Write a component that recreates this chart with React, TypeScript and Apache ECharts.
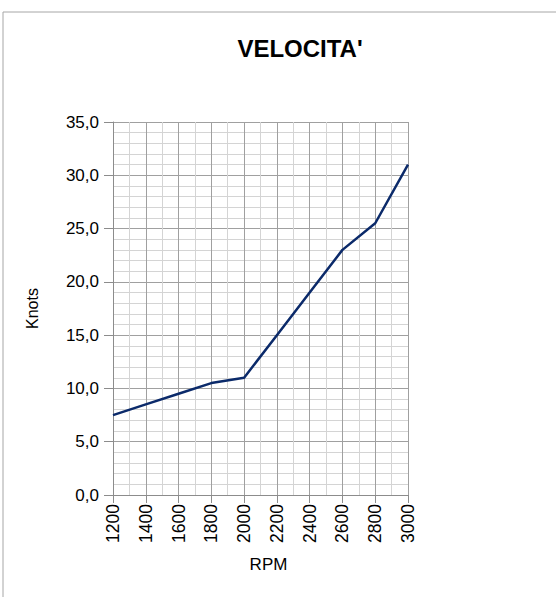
import React, { useEffect, useRef } from "react";
import * as echarts from "echarts";

const rpm = [1200, 1400, 1600, 1800, 2000, 2200, 2400, 2600, 2800, 3000];
const knots = [7.5, 8.5, 9.5, 10.5, 11.0, 15.0, 19.0, 23.0, 25.5, 31.0];
const titleText = "VELOCITA'";
const xName = "RPM";
const yName = "Knots";

export default function App() {
  const ref = useRef<HTMLDivElement>(null);
  useEffect(() => {
    document.body.style.margin = "0";
    const chart = echarts.init(ref.current!, null, { renderer: "svg" });
    const font = "'Liberation Sans', Arial, sans-serif";
    chart.setOption({
      animation: false,
      backgroundColor: "#ffffff",
      textStyle: { fontFamily: font },
      title: {
        text: titleText,
        left: 295,
        top: 31,
        textAlign: "center",
        textStyle: { fontSize: 24, fontWeight: "bold", color: "#000", fontFamily: font },
      },
      graphic: [
        { type: "line", shape: { x1: 3, y1: 12, x2: 556, y2: 12 }, style: { stroke: "#a6a6a6", lineWidth: 1 } },
        { type: "line", shape: { x1: 3, y1: 12, x2: 3, y2: 597 }, style: { stroke: "#a6a6a6", lineWidth: 1 } },
      ],
      grid: { left: 113, right: 148, top: 122, bottom: 102, containLabel: false },
      xAxis: {
        type: "value",
        min: 1200,
        max: 3000,
        interval: 200,
        name: xName,
        nameLocation: "middle",
        nameGap: 61,
        nameTextStyle: { fontSize: 17, color: "#000", fontFamily: font, padding: [0, 0, 0, 16] },
        axisLine: { show: true, lineStyle: { color: "#8c8c8c", width: 1 } },
        axisTick: { show: true, length: 8, lineStyle: { color: "#8c8c8c" } },
        axisLabel: {
          rotate: 90,
          fontSize: 17.5,
          color: "#000",
          margin: 9,
          fontFamily: font,
          formatter: (v: number) => String(v),
        },
        splitLine: { show: true, lineStyle: { color: "#a0a0a0", width: 1 } },
        minorTick: { show: false, splitNumber: 2 },
        minorSplitLine: { show: true, lineStyle: { color: "#d4d4d4", width: 1 } },
      },
      yAxis: {
        type: "value",
        min: 0,
        max: 35,
        interval: 5,
        name: yName,
        nameLocation: "middle",
        nameGap: 73,
        nameTextStyle: { fontSize: 16, color: "#000", fontFamily: font },
        axisLine: { show: true, lineStyle: { color: "#8c8c8c", width: 1 } },
        axisTick: { show: true, length: 9, lineStyle: { color: "#8c8c8c" } },
        axisLabel: {
          fontSize: 17,
          color: "#000",
          margin: 14,
          fontFamily: font,
          formatter: (v: number) => v.toFixed(1).replace(".", ","),
        },
        splitLine: { show: true, lineStyle: { color: "#a0a0a0", width: 1 } },
        minorTick: { show: false, splitNumber: 5 },
        minorSplitLine: { show: true, lineStyle: { color: "#d4d4d4", width: 1 } },
      },
      series: [
        {
          type: "line",
          data: rpm.map((r, i) => [r, knots[i]]),
          showSymbol: false,
          symbol: "none",
          lineStyle: { color: "#0b2a6a", width: 2.5 },
        },
      ],
    });
    return () => chart.dispose();
  }, []);
  return <div ref={ref} style={{ width: 556, height: 597 }} />;
}
